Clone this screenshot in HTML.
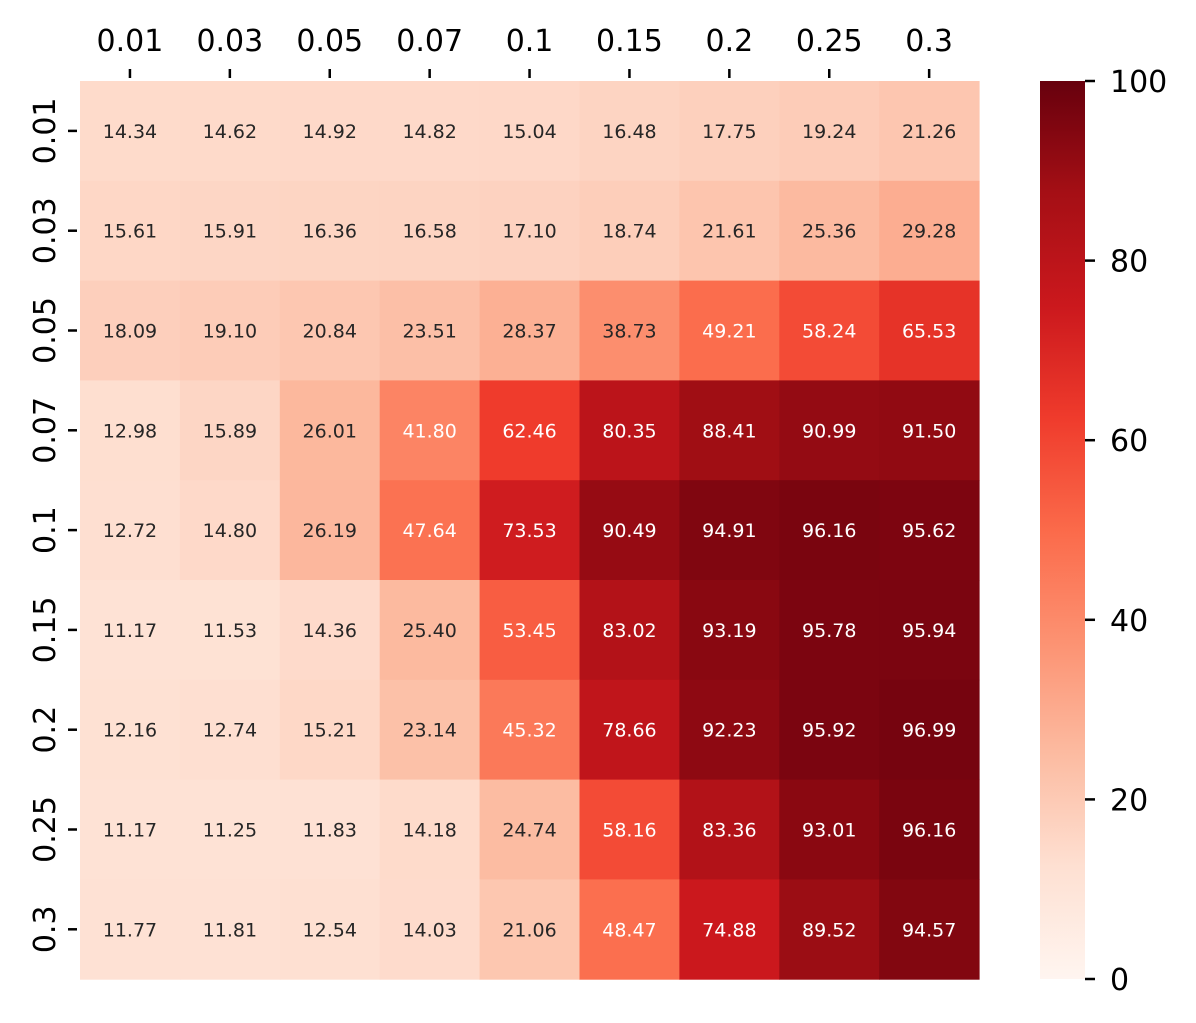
<!DOCTYPE html>
<html><head><meta charset="utf-8"><style>
html,body{margin:0;padding:0;background:#fff;}
svg{display:block;font-family:"DejaVu Sans","Liberation Sans",sans-serif;}
</style></head><body>
<svg id="chart" width="1196" height="1023">
<defs><linearGradient id="cbg" x1="0" y1="1" x2="0" y2="0">
<stop offset="0" stop-color="#fff5f0"/><stop offset="0.125" stop-color="#fee0d2"/><stop offset="0.25" stop-color="#fcbba1"/><stop offset="0.375" stop-color="#fc9272"/><stop offset="0.5" stop-color="#fb6a4a"/><stop offset="0.625" stop-color="#ef3b2c"/><stop offset="0.75" stop-color="#cb181d"/><stop offset="0.875" stop-color="#a50f15"/><stop offset="1" stop-color="#67000d"/>
</linearGradient></defs>
</svg>
<script>
const xLabels=["0.01","0.03","0.05","0.07","0.1","0.15","0.2","0.25","0.3"];
const yLabels=["0.01","0.03","0.05","0.07","0.1","0.15","0.2","0.25","0.3"];
const values=[
[14.34,14.62,14.92,14.82,15.04,16.48,17.75,19.24,21.26],
[15.61,15.91,16.36,16.58,17.10,18.74,21.61,25.36,29.28],
[18.09,19.10,20.84,23.51,28.37,38.73,49.21,58.24,65.53],
[12.98,15.89,26.01,41.80,62.46,80.35,88.41,90.99,91.50],
[12.72,14.80,26.19,47.64,73.53,90.49,94.91,96.16,95.62],
[11.17,11.53,14.36,25.40,53.45,83.02,93.19,95.78,95.94],
[12.16,12.74,15.21,23.14,45.32,78.66,92.23,95.92,96.99],
[11.17,11.25,11.83,14.18,24.74,58.16,83.36,93.01,96.16],
[11.77,11.81,12.54,14.03,21.06,48.47,74.88,89.52,94.57]];
const cbTicks=[0,20,40,60,80,100];
const vmin=0,vmax=100;
const X0=80,Y0=81,CW=99.9,CH=99.8;
const CBX=1040,CBW=45,CBT=81,CBB=979;
const stops=["#fff5f0","#fee0d2","#fcbba1","#fc9272","#fb6a4a","#ef3b2c","#cb181d","#a50f15","#67000d"].map(h=>[1,3,5].map(i=>parseInt(h.substr(i,2),16)));
function cmap(v){let t=Math.max(0,Math.min(1,(v-vmin)/(vmax-vmin)))*8;let i=Math.min(7,Math.floor(t)),f=t-i;
const c=stops[i].map((a,k)=>Math.round(a+(stops[i+1][k]-a)*f));return `rgb(${c})`;}
const xs=i=>X0+i*CW, ys=j=>Y0+j*CH, cy=v=>CBB-(v-vmin)/(vmax-vmin)*(CBB-CBT);
const svg=document.getElementById('chart'),NS="http://www.w3.org/2000/svg";
function el(t,a,txt){const e=document.createElementNS(NS,t);for(const k in a)e.setAttribute(k,a[k]);if(txt!=null)e.textContent=txt;svg.appendChild(e);return e;}
values.forEach((row,j)=>row.forEach((v,i)=>{
 const r=el('rect',{x:xs(i),y:ys(j),width:CW+0.5,height:CH+0.5,fill:cmap(v)});
 
 
 const t=el('text',{x:xs(i)+CW/2,y:ys(j)+CH/2+7,'text-anchor':'middle','font-size':19,fill:v>40?'#ffffff':'#262626'},v.toFixed(2));
 
 
}));
xLabels.forEach((l,i)=>{const x=xs(i)+CW/2;
 const tk=el('line',{x1:x,x2:x,y1:Y0-12,y2:Y0-3,stroke:'#000','stroke-width':2.5});
 
 
 const t=el('text',{x:x,y:51,'text-anchor':'middle','font-size':30,fill:'#000'},l);
 
 });
yLabels.forEach((l,j)=>{const y=ys(j)+CH/2;
 const tk=el('line',{x1:X0-12,x2:X0-3,y1:y,y2:y,stroke:'#000','stroke-width':2.5});
 
 
 const t=el('text',{x:0,y:0,'text-anchor':'middle','font-size':30,fill:'#000',transform:`translate(${X0-25},${y}) rotate(-90)`},l);
 
 });
const cb=el('rect',{x:CBX,y:CBT,width:CBW,height:CBB-CBT,fill:'url(#cbg)'});


cbTicks.forEach(v=>{const y=cy(v);
 const tk=el('line',{x1:CBX+CBW,x2:CBX+CBW+10,y1:y,y2:y,stroke:'#000','stroke-width':2.5});
 
 
 const t=el('text',{x:CBX+CBW+25,y:y+11,'font-size':30,fill:'#000'},String(v));
 
 });
</script>
</body></html>
